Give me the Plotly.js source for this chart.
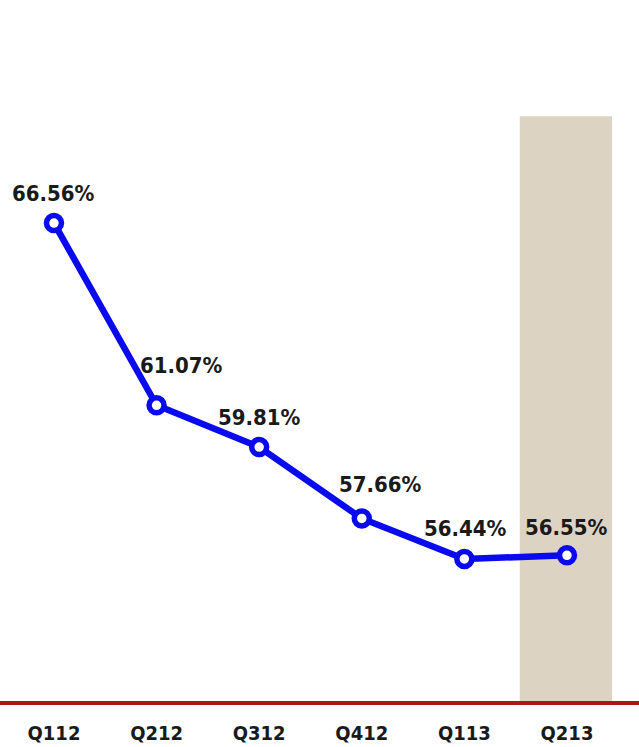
<!DOCTYPE html>
<html>
<head>
<meta charset="utf-8">
<script src="https://cdn.plot.ly/plotly-3.0.1.min.js"></script>
<style>html,body{margin:0;padding:0;background:#fff;}#chart{width:639px;height:747px;}</style>
</head>
<body>
<div id="chart"></div>
<script>
// Data
const quarters = ["Q112", "Q212", "Q312", "Q412", "Q113", "Q213"];
const values = [66.56, 61.07, 59.81, 57.66, 56.44, 56.55];
const highlightQuarter = "Q213";

// Label placement (style only)
const labelXShift = [0, 25, 0, 19, 1, 0];
const labelYShift = [30, 40, 30, 34, 30, 28];

const labelFont = {family: "DejaVu Sans Condensed, sans-serif", size: 22, color: "#1a1a1a", weight: "bold"};
const tickFont = {family: "DejaVu Sans Condensed, sans-serif", size: 20, color: "#1a1a1a", weight: "bold"};

const hi = quarters.indexOf(highlightQuarter);

const trace = {
  x: quarters,
  y: values,
  type: "scatter",
  mode: "lines+markers",
  line: {color: "#0a0aee", width: 6.5},
  marker: {size: 15, color: "#ffffff", line: {color: "#0a0aee", width: 5.5}},
  hoverinfo: "skip",
  cliponaxis: false
};

const annotations = quarters.map((q, i) => ({
  x: q, y: values[i], xref: "x", yref: "y",
  text: values[i].toFixed(2) + "%",
  showarrow: false,
  xshift: labelXShift[i], yshift: labelYShift[i],
  font: labelFont
}));

const layout = {
  width: 639, height: 747,
  margin: {l: 0, r: 0, t: 0, b: 44},
  paper_bgcolor: "#ffffff", plot_bgcolor: "#ffffff",
  showlegend: false,
  xaxis: {
    type: "category",
    range: [-0.526, 5.702],
    showgrid: false, zeroline: false, showline: false,
    ticks: "", tickfont: tickFont,
    ticklabelstandoff: 16,
    fixedrange: true
  },
  yaxis: {
    range: [52.10, 73.28],
    showgrid: false, zeroline: false, showline: false,
    showticklabels: false, ticks: "",
    fixedrange: true
  },
  shapes: [
    {type: "rect", xref: "x", yref: "y", x0: hi - 0.46, x1: hi + 0.44, y0: 52.10, y1: 69.78,
     fillcolor: "#dcd3c2", line: {width: 0}, layer: "below"},
    {type: "line", xref: "paper", yref: "paper", x0: 0, x1: 1, y0: 0, y1: 0,
     line: {color: "#a31a1a", width: 4}, layer: "above"}
  ],
  annotations: annotations
};

Plotly.newPlot("chart", [trace], layout, {displayModeBar: false, staticPlot: true});
</script>
</body>
</html>
